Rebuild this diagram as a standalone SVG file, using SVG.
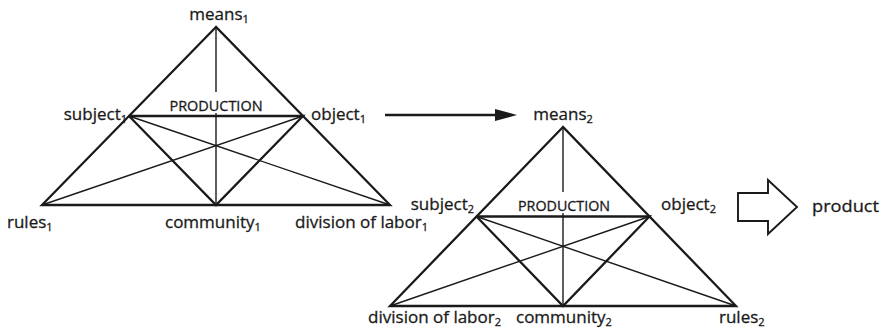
<svg xmlns="http://www.w3.org/2000/svg" width="882" height="335" viewBox="0 0 882 335">
<style>
.thick{stroke:#1a1a1a;stroke-width:2.3;fill:none;stroke-linejoin:miter}
.thin{stroke:#1a1a1a;stroke-width:1.4;fill:none}
text{font-family:"Open Sans","Noto Sans",sans-serif;font-size:17px;fill:#1a1a1a;stroke:#1a1a1a;stroke-width:0.3}
.prod{font-size:14px;stroke-width:0.3}
.sub{font-size:11px}
.mid{text-anchor:middle}
.end{text-anchor:end}
</style>
<defs>
<marker id="ah" viewBox="0 0 22 12" refX="0" refY="6" markerWidth="22" markerHeight="12" markerUnits="userSpaceOnUse" orient="auto">
<path d="M0,0 L22,6 L0,12 Z" fill="#1a1a1a"/>
</marker>
</defs>
<rect width="882" height="335" fill="#ffffff"/>

<g id="triangle1">
<polygon class="thick" points="216,27 42,205 390,205"/>
<polyline class="thick" points="129,116 303,116 216,205 129,116"/>
<line class="thin" x1="216" y1="27" x2="216" y2="92"/>
<line class="thin" x1="216" y1="113" x2="216" y2="205"/>
<line class="thin" x1="129" y1="116" x2="390" y2="205"/>
<line class="thin" x1="303" y1="116" x2="42" y2="205"/>
<text class="prod mid" x="216" y="111" textLength="93" lengthAdjust="spacingAndGlyphs">PRODUCTION</text>
</g>
<g id="means1"><text class="mid" x="219" y="20">means<tspan class="sub" dy="3">1</tspan></text></g>
<g id="subject1"><text class="end" x="127" y="120">subject<tspan class="sub" dy="3">1</tspan></text></g>
<g id="object1"><text x="311" y="120">object<tspan class="sub" dy="3">1</tspan></text></g>
<g id="rules1"><text x="7" y="228">rules<tspan class="sub" dy="3">1</tspan></text></g>
<g id="community1"><text x="165" y="228">community<tspan class="sub" dy="3">1</tspan></text></g>
<g id="division1"><text class="end" x="428" y="228">division of labor<tspan class="sub" dy="3">1</tspan></text></g>

<g id="triangle2">
<polygon class="thick" points="563,127 390,306 736,306"/>
<polyline class="thick" points="476.5,216.5 649.5,216.5 563,306 476.5,216.5"/>
<line class="thin" x1="563" y1="127" x2="563" y2="192"/>
<line class="thin" x1="563" y1="213" x2="563" y2="306"/>
<line class="thin" x1="476.5" y1="216.5" x2="736" y2="306"/>
<line class="thin" x1="649.5" y1="216.5" x2="390" y2="306"/>
<text class="prod mid" x="564" y="211" textLength="92" lengthAdjust="spacingAndGlyphs">PRODUCTION</text>
</g>
<g id="means2"><text class="mid" x="563" y="120">means<tspan class="sub" dy="3">2</tspan></text></g>
<g id="subject2"><text class="end" x="474" y="210">subject<tspan class="sub" dy="3">2</tspan></text></g>
<g id="object2"><text x="661" y="210">object<tspan class="sub" dy="3">2</tspan></text></g>
<g id="division2"><text class="end" x="501" y="323">division of labor<tspan class="sub" dy="3">2</tspan></text></g>
<g id="community2"><text x="516" y="323">community<tspan class="sub" dy="3">2</tspan></text></g>
<g id="rules2"><text x="719" y="323">rules<tspan class="sub" dy="3">2</tspan></text></g>

<g id="product"><text x="812" y="212" textLength="67" lengthAdjust="spacingAndGlyphs">product</text></g>

<g id="connectors">
<line x1="385" y1="115" x2="495" y2="115" stroke="#1a1a1a" stroke-width="2.3" marker-end="url(#ah)"/>
<polygon class="thick" style="stroke-width:1.9" points="738,193 768,193 768,180 797,207 768,234 768,221 738,221"/>
</g>
</svg>
